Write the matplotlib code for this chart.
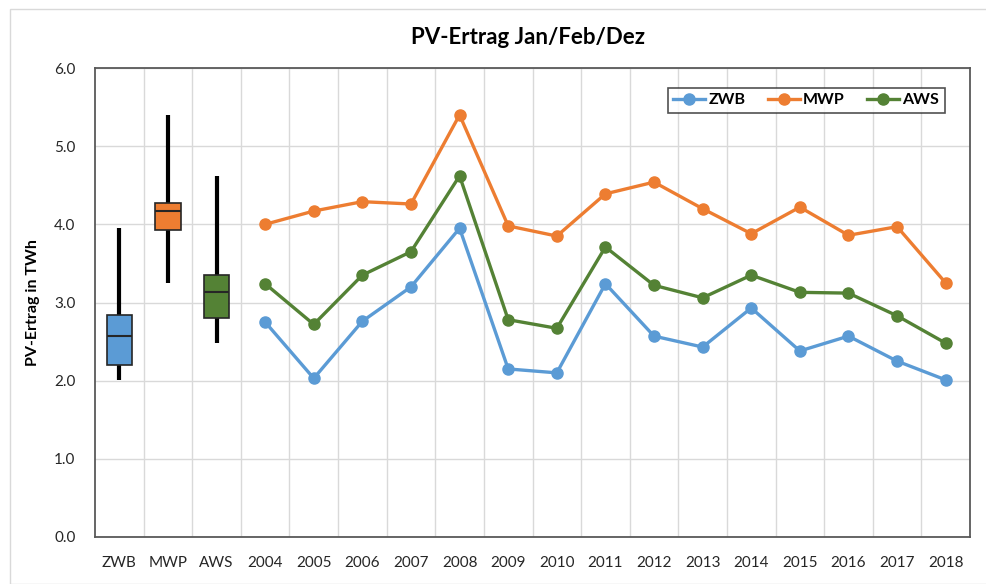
import matplotlib.pyplot as plt
import numpy as np
from matplotlib.patches import Rectangle

plt.rcParams['font.family'] = ['Lato', 'DejaVu Sans']

years = list(range(2004, 2019))
zwb = [2.75, 2.03, 2.76, 3.20, 3.95, 2.15, 2.10, 3.24, 2.57, 2.43, 2.93, 2.38, 2.57, 2.25, 2.01]
mwp = [4.00, 4.17, 4.29, 4.26, 5.40, 3.98, 3.85, 4.39, 4.54, 4.20, 3.88, 4.22, 3.86, 3.97, 3.25]
aws = [3.24, 2.72, 3.35, 3.65, 4.62, 2.78, 2.67, 3.71, 3.22, 3.06, 3.35, 3.13, 3.12, 2.83, 2.48]
series = ['ZWB', 'MWP', 'AWS']
colors = ['#5B9BD5', '#ED7D31', '#548235']
labels = series + [str(y) for y in years]

fig = plt.figure(figsize=(9.86, 5.84), dpi=100)
ax = fig.add_axes([95/986, 47/584, 875/986, 469/584])

# outer chart border
fig.patches.append(Rectangle((10/986, 0), 1, 575/584, transform=fig.transFigure,
                             fill=False, ec='#D9D9D9', lw=1))

# box plots: whiskers from min to max
data = [zwb, mwp, aws]
bp = ax.boxplot(data, positions=[0, 1, 2], whis=(0, 100), widths=0.52,
                patch_artist=True, showcaps=False, showfliers=False,
                medianprops=dict(color='#262626', lw=1.5, zorder=4),
                whiskerprops=dict(color='black', lw=3, solid_capstyle='butt'),
                boxprops=dict(ec='#262626', lw=1.2))
for patch, c in zip(bp['boxes'], colors):
    patch.set_facecolor(c)
    patch.set_zorder(3)

xs = np.arange(3, 3 + len(years))
for vals, name, c in zip(data, series, colors):
    ax.plot(xs, vals, color=c, lw=2.4, marker='o', ms=8, label=name, zorder=4)

ax.set_xlim(-0.5, len(labels) - 0.5)
ax.set_ylim(0, 6)
ax.set_yticks(np.arange(0, 6.1, 1))
ax.set_yticklabels([f'{v:.1f}' for v in np.arange(0, 6.1, 1)])
ax.set_xticks(range(len(labels)))
ax.set_xticklabels(labels)
ax.set_xticks(np.arange(0.5, len(labels) - 1, 1), minor=True)
ax.tick_params(axis='both', which='both', length=0, labelsize=11, colors='#262626')
ax.tick_params(axis='x', pad=14)
ax.tick_params(axis='y', pad=14)
ax.grid(axis='y', color='#D9D9D9', lw=1)
ax.grid(axis='x', which='minor', color='#D9D9D9', lw=1)
ax.set_axisbelow(True)
for s in ax.spines.values():
    s.set_color('#595959')
    s.set_linewidth(1.3)

ax.set_ylabel('PV-Ertrag in TWh', fontsize=11.5, fontweight='bold', labelpad=10)
fig.text(0.535, 0.935, 'PV-Ertrag Jan/Feb/Dez', ha='center', va='center',
         fontsize=16, fontweight='bold')

leg = ax.legend(loc='upper right', ncol=3, fontsize=11.5, frameon=True, fancybox=False,
                bbox_to_anchor=(0.98, 0.975), handlelength=2.0, columnspacing=1.4,
                borderpad=0.35, handletextpad=0.2)
leg.get_frame().set_edgecolor('#262626')
leg.get_frame().set_linewidth(1.2)
for t in leg.get_texts():
    t.set_fontweight('bold')

fig.savefig('out.png', dpi=100)
